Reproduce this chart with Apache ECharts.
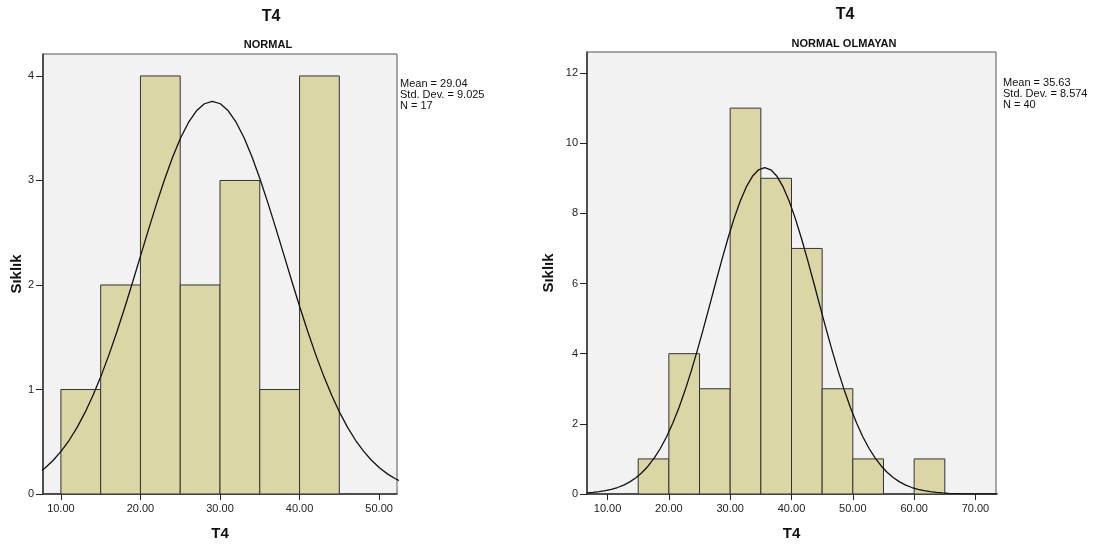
<!DOCTYPE html>
<html>
<head>
<meta charset="utf-8">
<script src="https://cdn.jsdelivr.net/npm/echarts@6/dist/echarts.min.js"></script>
<style>
html,body{margin:0;padding:0;background:#fff;}
#c{width:1101px;height:554px;}
</style>
</head>
<body>
<div id="c"></div>
<script>
// ---- data ----
var leftBinEdges = [10, 15, 20, 25, 30, 35, 40, 45];
var leftCounts = [1, 2, 4, 2, 3, 1, 4];
var rightBinEdges = [15, 20, 25, 30, 35, 40, 45, 50, 55, 60, 65];
var rightCounts = [1, 4, 3, 11, 9, 7, 3, 1, 0, 1];

var leftXTicks = [10, 20, 30, 40, 50];
var leftYTicks = [0, 1, 2, 3, 4];
var rightXTicks = [10, 20, 30, 40, 50, 60, 70];
var rightYTicks = [0, 2, 4, 6, 8, 10, 12];

// normal curves (sample points, 1 unit apart)
var leftCurveX = [7.04, 8.04, 9.04, 10.04, 11.04, 12.04, 13.04, 14.04, 15.04, 16.04, 17.04, 18.04, 19.04, 20.04, 21.04, 22.04, 23.04, 24.04, 25.04, 26.04, 27.04, 28.04, 29.04, 30.04, 31.04, 32.04, 33.04, 34.04, 35.04, 36.04, 37.04, 38.04, 39.04, 40.04, 41.04, 42.04, 43.04, 44.04, 45.04, 46.04, 47.04, 48.04, 49.04, 50.04, 51.04, 52.04, 53.04];
var leftCurveY = [0.1925, 0.2507, 0.3225, 0.4097, 0.5141, 0.6373, 0.7805, 0.9440, 1.1279, 1.3313, 1.5522, 1.7875, 2.0334, 2.2851, 2.5364, 2.781, 3.012, 3.2225, 3.406, 3.555, 3.666, 3.734, 3.757, 3.734, 3.666, 3.555, 3.406, 3.2225, 3.012, 2.781, 2.5364, 2.2851, 2.0334, 1.7875, 1.5522, 1.3313, 1.1279, 0.9440, 0.7805, 0.6373, 0.5141, 0.4097, 0.3225, 0.2507, 0.1925, 0.1460, 0.1094];
var rightCurveX = [6.63, 7.63, 8.63, 9.63, 10.63, 11.63, 12.63, 13.63, 14.63, 15.63, 16.63, 17.63, 18.63, 19.63, 20.63, 21.63, 22.63, 23.63, 24.63, 25.63, 26.63, 27.63, 28.63, 29.63, 30.63, 31.63, 32.63, 33.63, 34.63, 35.63, 36.63, 37.63, 38.63, 39.63, 40.63, 41.63, 42.63, 43.63, 44.63, 45.63, 46.63, 47.63, 48.63, 49.63, 50.63, 51.63, 52.63, 53.63, 54.63, 55.63, 56.63, 57.63, 58.63, 59.63, 60.63, 61.63, 62.63, 63.63, 64.63, 65.63, 66.63, 67.63, 68.63, 69.63, 70.63, 71.63, 72.63, 73.63];
var rightCurveY = [0.0305, 0.0450, 0.0654, 0.0938, 0.1327, 0.1851, 0.2548, 0.3460, 0.4636, 0.6127, 0.7988, 1.0274, 1.3035, 1.6314, 2.0144, 2.4537, 2.9482, 3.4948, 4.0865, 4.7137, 5.3640, 6.0217, 6.6685, 7.2849, 7.8509, 8.3464, 8.7534, 9.0562, 9.2429, 9.306, 9.2429, 9.0562, 8.7534, 8.3464, 7.8509, 7.2849, 6.6685, 6.0217, 5.3640, 4.7137, 4.0865, 3.4948, 2.9482, 2.4537, 2.0144, 1.6314, 1.3035, 1.0274, 0.7988, 0.6127, 0.4636, 0.3460, 0.2548, 0.1851, 0.1327, 0.0938, 0.0654, 0.0450, 0.0305, 0.0204, 0.0135, 0.0088, 0.0056, 0.0036, 0.0022, 0.0014, 0.0008, 0.0005];

var leftStats = ['Mean = 29.04', 'Std. Dev. = 9.025', 'N = 17'];
var rightStats = ['Mean = 35.63', 'Std. Dev. = 8.574', 'N = 40'];

// ---- build ----
function bins(edges, counts) {
  var out = [];
  for (var i = 0; i < counts.length; i++) {
    if (counts[i] > 0) out.push([edges[i], edges[i + 1], counts[i]]);
  }
  return out;
}
function pairs(xs, ys) {
  return xs.map(function (x, i) { return [x, ys[i]]; });
}
function renderBar(params, api) {
  var a = api.coord([api.value(0), api.value(2)]);
  var b = api.coord([api.value(1), 0]);
  return {
    type: 'rect',
    shape: { x: a[0], y: a[1], width: b[0] - a[0], height: b[1] - a[1] },
    style: { fill: '#dbd6a5', stroke: '#333333', lineWidth: 1 }
  };
}
var FONT = 'Liberation Sans';
function xAxis(idx, min, max, ticks) {
  return {
    type: 'value', gridIndex: idx, min: min, max: max,
    name: 'T4', nameLocation: 'middle', nameGap: 32,
    nameTextStyle: { fontFamily: FONT, fontSize: 15, fontWeight: 'bold', color: '#111' },
    axisLine: { show: true, onZero: false, lineStyle: { color: '#333', width: 1.5 } },
    axisTick: { show: true, customValues: ticks, length: 6, lineStyle: { color: '#222' } },
    axisLabel: { customValues: ticks, margin: 9, fontFamily: FONT, fontSize: 11, color: '#222',
      formatter: function (v) { return v.toFixed(2); } },
    splitLine: { show: false }
  };
}
function yAxis(idx, min, max, ticks, gap) {
  return {
    type: 'value', gridIndex: idx, min: min, max: max,
    name: 'Sıklık', nameLocation: 'middle', nameGap: gap, nameRotate: 90,
    nameTextStyle: { fontFamily: FONT, fontSize: 15, fontWeight: 'bold', color: '#111' },
    axisLine: { show: true, lineStyle: { color: '#333', width: 1.5 } },
    axisTick: { show: true, customValues: ticks, length: 7, lineStyle: { color: '#222' } },
    axisLabel: { customValues: ticks, margin: 9, fontFamily: FONT, fontSize: 11, color: '#222' },
    splitLine: { show: false }
  };
}
function statText(x, y, lines) {
  return {
    type: 'text', left: x, top: y,
    style: { text: lines.join('\n'), fontFamily: FONT, fontSize: 11, lineHeight: 11, fill: '#111' }
  };
}

var chart = echarts.init(document.getElementById('c'), null, { renderer: 'canvas' });
chart.setOption({
  animation: false,
  backgroundColor: '#ffffff',
  title: [
    { text: 'T4', left: 266, top: 4, textAlign: 'center',
      textStyle: { fontFamily: FONT, fontSize: 16, fontWeight: 'bold', color: '#111' } },
    { text: 'NORMAL', left: 263, top: 34, textAlign: 'center',
      textStyle: { fontFamily: FONT, fontSize: 11, fontWeight: 'bold', color: '#111' } },
    { text: 'T4', left: 840, top: 2, textAlign: 'center',
      textStyle: { fontFamily: FONT, fontSize: 16, fontWeight: 'bold', color: '#111' } },
    { text: 'NORMAL OLMAYAN', left: 839, top: 33, textAlign: 'center',
      textStyle: { fontFamily: FONT, fontSize: 11, fontWeight: 'bold', color: '#111' } }
  ],
  grid: [
    { left: 43, top: 54, width: 354, height: 440, show: true, backgroundColor: '#f2f2f2',
      borderColor: '#555', borderWidth: 1, containLabel: false },
    { left: 587, top: 52, width: 409, height: 442, show: true, backgroundColor: '#f2f2f2',
      borderColor: '#555', borderWidth: 1, containLabel: false }
  ],
  xAxis: [xAxis(0, 7.75, 52.25, leftXTicks), xAxis(1, 6.65, 73.35, rightXTicks)],
  yAxis: [yAxis(0, 0, 4.21, leftYTicks, 18), yAxis(1, 0, 12.6, rightYTicks, 31)],
  graphic: [statText(400, 78, leftStats), statText(1003, 77, rightStats)],
  series: [
    { type: 'custom', xAxisIndex: 0, yAxisIndex: 0, renderItem: renderBar,
      encode: { x: [0, 1], y: 2 }, data: bins(leftBinEdges, leftCounts), silent: true },
    { type: 'line', xAxisIndex: 0, yAxisIndex: 0, data: pairs(leftCurveX, leftCurveY),
      smooth: false, showSymbol: false, clip: true, lineStyle: { color: '#111', width: 1.3 }, z: 5 },
    { type: 'custom', xAxisIndex: 1, yAxisIndex: 1, renderItem: renderBar,
      encode: { x: [0, 1], y: 2 }, data: bins(rightBinEdges, rightCounts), silent: true },
    { type: 'line', xAxisIndex: 1, yAxisIndex: 1, data: pairs(rightCurveX, rightCurveY),
      smooth: false, showSymbol: false, clip: true, lineStyle: { color: '#111', width: 1.3 }, z: 5 }
  ]
});
</script>
</body>
</html>
